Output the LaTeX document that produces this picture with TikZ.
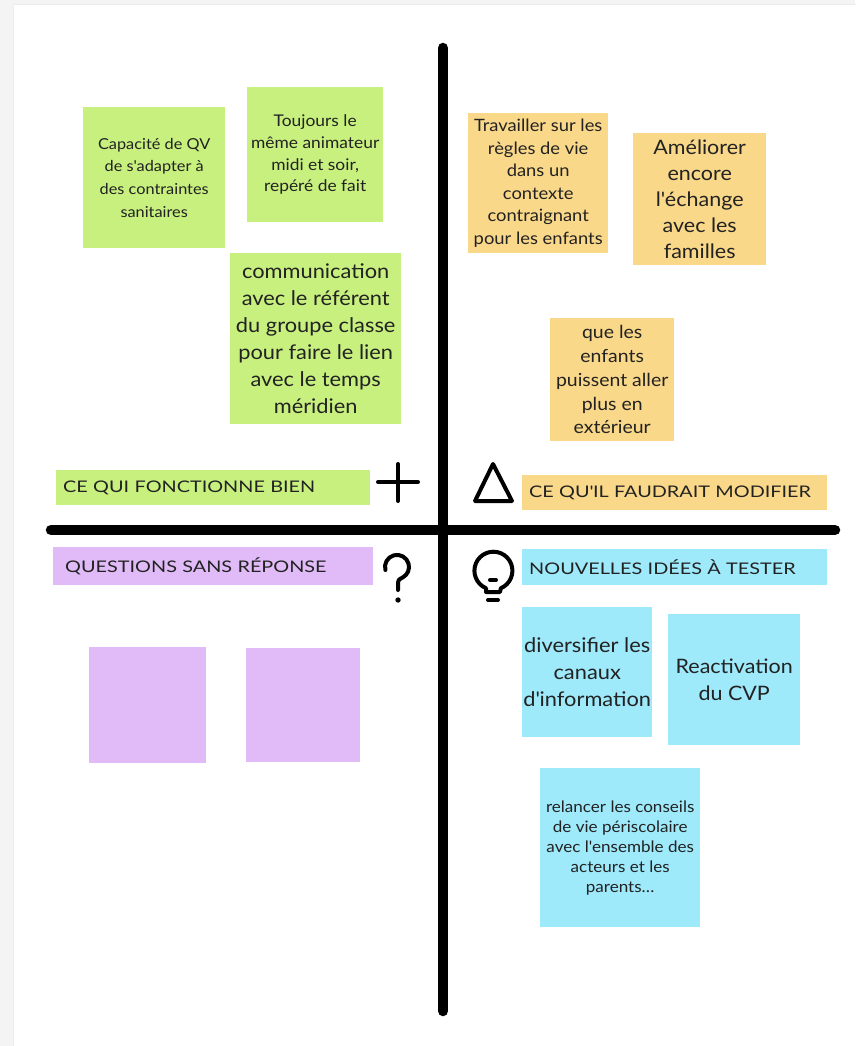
\documentclass[tikz,border=0pt]{standalone}
\usepackage{fontspec}
\setmainfont{Lato}
\newfontfamily\notefont{Lato}[FakeStretch=1.08]
\newfontfamily\headfont{Lato}[FakeStretch=1.24]
\newcommand{\ap}{\textquotesingle}
\definecolor{notegreen}{HTML}{C8F07E}
\definecolor{noteorange}{HTML}{FAD889}
\definecolor{notepurple}{HTML}{E0BBF7}
\definecolor{noteblue}{HTML}{9EE9FA}
\definecolor{ink}{HTML}{222222}
\definecolor{page}{HTML}{F4F4F4}
\begin{document}
\begin{tikzpicture}[x=1pt,y=-1pt,
    note/.style={anchor=north west,inner sep=0pt,align=center,text=ink},
    head/.style={anchor=north west,inner xsep=7pt,inner ysep=0pt,align=left,text=ink,
      minimum height=35pt,font=\headfont\fontsize{16}{18}\selectfont},
    bar/.style={line width=10.5pt,line cap=round},
    icon/.style={line width=4pt,line cap=round,line join=round}]
  \useasboundingbox (0,0) rectangle (855,1046);
  \fill[page] (0,0) rectangle (855,1046);
  \filldraw[fill=white,draw=black!7] (13,4) rectangle (856,1047);

  \draw[bar] (443,48) -- (443,1011);
  \draw[bar] (51,530) -- (835,530);

  \node[note,fill=notegreen,minimum width=142pt,minimum height=141pt,font=\notefont\fontsize{15.1}{22.7}\selectfont]
    (capacite) at (83,107) {Capacité de QV\\de s\ap adapter à\\des contraintes\\sanitaires};
  \node[note,fill=notegreen,minimum width=136pt,minimum height=135pt,font=\notefont\fontsize{16.1}{21.7}\selectfont]
    (toujours) at (247,87) {Toujours le\\même animateur\\midi et soir,\\repéré de fait};
  \node[note,fill=notegreen,minimum width=171pt,minimum height=171pt,font=\notefont\fontsize{20.2}{27}\selectfont]
    (communication) at (230,253) {communication\\avec le référent\\du groupe classe\\pour faire le lien\\avec le temps\\méridien};

  \node[note,fill=noteorange,minimum width=140pt,minimum height=140pt,font=\notefont\fontsize{17}{22.5}\selectfont]
    (travailler) at (468,113) {Travailler sur les\\règles de vie\\dans un\\contexte\\contraignant\\pour les enfants};
  \node[note,fill=noteorange,minimum width=133pt,minimum height=132pt,font=\notefont\fontsize{19.9}{25.8}\selectfont]
    (ameliorer) at (633,133) {Améliorer\\encore\\l\ap échange\\avec les\\familles};
  \node[note,fill=noteorange,minimum width=124pt,minimum height=123pt,font=\notefont\fontsize{18}{23.8}\selectfont]
    (enfants) at (550,318) {que les\\enfants\\puissent aller\\plus en\\extérieur};

  \node[head,fill=notegreen,text width=300pt] (bien) at (56,470) {CE QUI FONCTIONNE BIEN};
  \node[head,fill=noteorange,text width=291pt] (modifier) at (522,475) {CE QU\ap IL FAUDRAIT MODIFIER};
  \node[head,fill=notepurple,text width=308pt,inner xsep=6pt,minimum height=38pt] (questions) at (53,547) {\hspace*{6pt}QUESTIONS SANS RÉPONSE};
  \node[head,fill=noteblue,text width=291pt,minimum height=36pt] (idees) at (522,549) {NOUVELLES IDÉES À TESTER};

  \draw[icon] (378,482) -- (418,482) (398,464) -- (398,501);
  \draw[icon] (493,464) -- (512,501) -- (475,501) -- cycle;
  \draw[icon] (385.4,570) arc[start angle=165,end angle=420,radius=12]
    .. controls (398,580) .. (398,586) -- (398,590);
  \fill (398,600) circle (2.7);
  \draw[icon] (486,592) -- (486,588.2) arc[start angle=113,end angle=427,radius=19] -- (500,592) -- cycle;
  \draw[icon] (488,600) -- (498,600);
  \draw[icon] (490,580) -- (496,580);

  \node[note,fill=notepurple,minimum width=117pt,minimum height=116pt] (vide1) at (89,647) {};
  \node[note,fill=notepurple,minimum width=114pt,minimum height=114pt] (vide2) at (246,648) {};

  \node[note,fill=noteblue,minimum width=130pt,minimum height=130pt,font=\notefont\fontsize{20.2}{26.7}\selectfont]
    (diversifier) at (522,607) {diversifier les\\canaux\\d\ap information};
  \node[note,fill=noteblue,minimum width=132pt,minimum height=131pt,font=\notefont\fontsize{19.9}{26.7}\selectfont]
    (cvp) at (668,614) {Reactivation\\du CVP};
  \node[note,fill=noteblue,minimum width=160pt,minimum height=159pt,font=\notefont\fontsize{15.8}{20}\selectfont]
    (relancer) at (540,768) {relancer les conseils\\de vie périscolaire\\avec l\ap ensemble des\\acteurs et les\\parents…};
\end{tikzpicture}
\end{document}
